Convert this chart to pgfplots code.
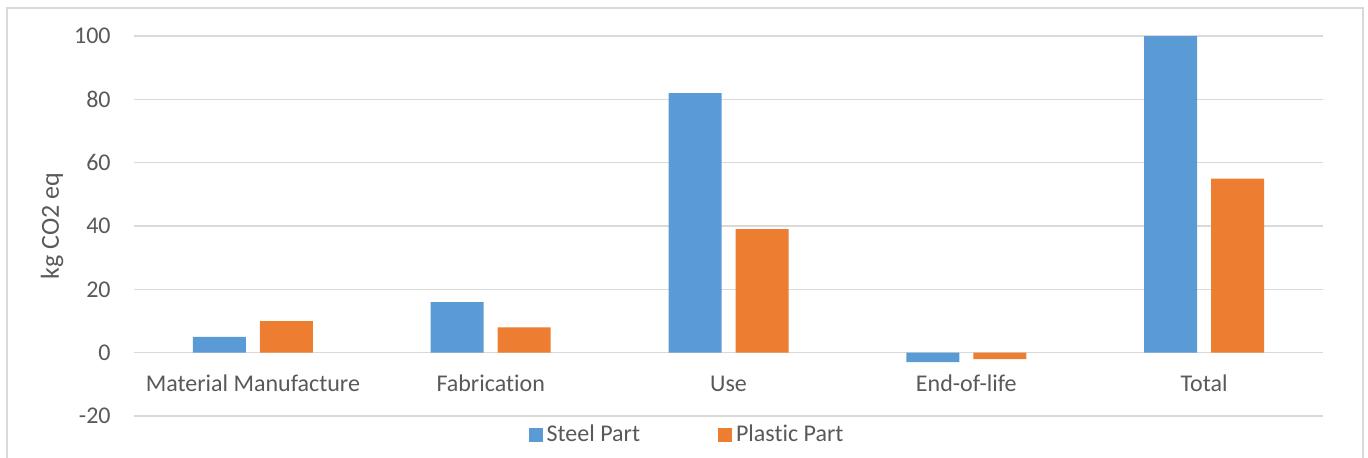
\documentclass[border=0pt]{standalone}
\usepackage{fontspec}
\setmainfont[Ligatures=NoCommon]{Carlito}
\usepackage{pgfplots}
\pgfplotsset{compat=1.18}
\definecolor{steel}{HTML}{5B9BD5}
\definecolor{plastic}{HTML}{ED7D31}
\definecolor{gridc}{HTML}{D9D9D9}
\definecolor{txt}{HTML}{595959}
\begin{document}
\begin{tikzpicture}
\useasboundingbox (0,0) rectangle (684pt,228.5pt);
\draw[gridc, line width=1pt] (3.5pt,-5pt) -- (3.5pt,224.5pt) -- (681.5pt,224.5pt) -- (681.5pt,-5pt);
\begin{axis}[
  at={(67pt,20.5pt)}, anchor=south west,
  scale only axis, width=594.5pt, height=190pt,
  ybar=7pt, bar width=26.5pt,
  xmin=-0.5, xmax=4.5, ymin=-20, ymax=100,
  xtick={0,1,2,3,4},
  xticklabels={Material Manufacture, Fabrication, Use, End-of-life, Total},
  ytick={-20,0,20,40,60,80,100},
  yticklabels={-20,0,20,40,60,80,100},
  axis line style={draw=none},
  ymajorgrids, major grid style={gridc, line width=0.75pt},
  major tick length=0pt,
  clip=false,
  tick label style={font=\fontsize{12}{14}\selectfont, text=txt},
  x tick label style={anchor=base, inner sep=0pt, yshift=12.5pt},
  y tick label style={anchor=east, inner sep=0pt, xshift=-11.5pt},
  ylabel={kg CO2 eq},
  ylabel style={at={(axis description cs:-0.069,0.5)}, anchor=center, font=\fontsize{13}{15}\selectfont, text=txt},
  legend style={at={(rel axis cs:0.466,-0.05)}, anchor=center, draw=none, fill=none,
    legend columns=2, font=\fontsize{12}{14}\selectfont, text=txt,
    /tikz/every even column/.append style={column sep=37pt}},
  legend image code/.code={\fill[#1] (0pt,-3.5pt) rectangle (7pt,3.5pt);},
]
\addplot[fill=steel, draw=none] coordinates {(0,5) (1,16) (2,82) (3,-3) (4,100)};
\addplot[fill=plastic, draw=none] coordinates {(0,10) (1,8) (2,39) (3,-2) (4,55)};
\legend{Steel Part, Plastic Part}
\end{axis}
\end{tikzpicture}
\end{document}
